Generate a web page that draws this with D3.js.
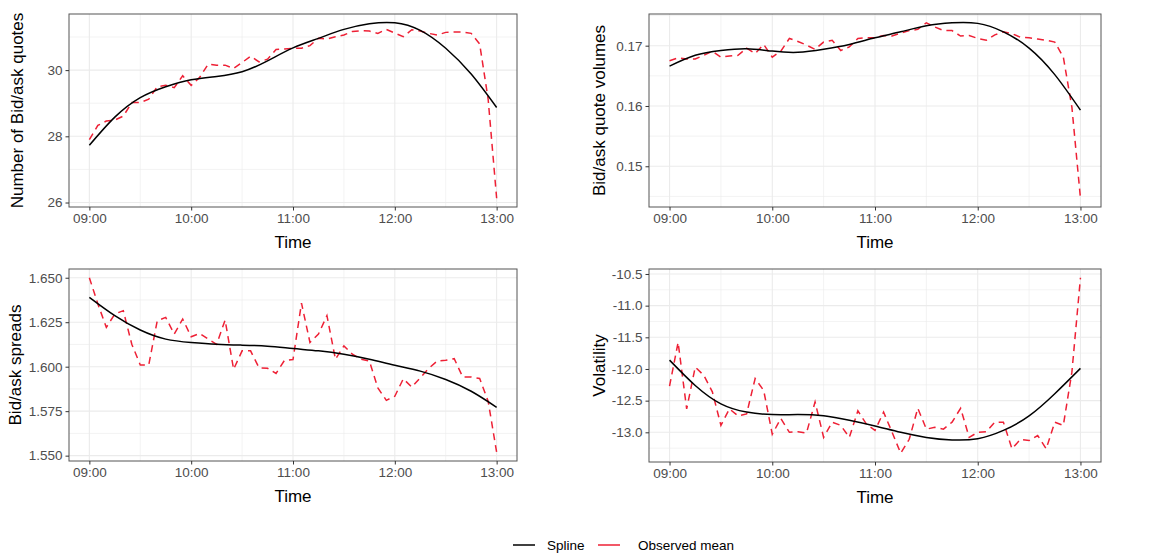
<!DOCTYPE html>
<html>
<head>
<meta charset="utf-8">
<script src="https://cdn.jsdelivr.net/npm/d3@7"></script>
<style>
  body { margin: 0; background: #fff; }
  svg text { font-family: "Liberation Sans", Arial, sans-serif; }
</style>
</head>
<body>
<svg id="chart" width="1156" height="556"></svg>
<script>
// x positions: observed means every 5 minutes, spline read every 15 minutes
const obsTimes = ["09:00","09:05","09:10","09:15","09:20","09:25","09:30","09:35","09:40","09:45",
  "09:50","09:55","10:00","10:05","10:10","10:15","10:20","10:25","10:30","10:35",
  "10:40","10:45","10:50","10:55","11:00","11:05","11:10","11:15","11:20","11:25",
  "11:30","11:35","11:40","11:45","11:50","11:55","12:00","12:05","12:10","12:15",
  "12:20","12:25","12:30","12:35","12:40","12:45","12:50","12:55","13:00"];
const splineTimes = ["09:00","09:15","09:30","09:45","10:00","10:15","10:30","10:45","11:00",
  "11:15","11:30","11:45","12:00","12:15","12:30","12:45","13:00"];
const timeTicks = ["09:00","10:00","11:00","12:00","13:00"];
const timeMinorTicks = ["09:30","10:30","11:30","12:30"];

// Number of bid/ask quotes
const quotesObs = [27.90,28.33,28.46,28.49,28.61,29.02,29.02,29.12,29.50,29.54,
  29.47,29.83,29.54,29.78,30.18,30.15,30.15,30.05,30.23,30.42,
  30.25,30.33,30.62,30.64,30.66,30.66,30.74,30.96,30.94,31.01,
  31.06,31.17,31.19,31.18,31.11,31.23,31.12,31.01,31.22,31.18,
  31.11,31.06,31.14,31.15,31.15,31.11,30.79,29.12,26.13];
const quotesSpline = [27.73,28.58,29.17,29.50,29.71,29.81,29.95,30.28,30.67,
  30.96,31.23,31.40,31.43,31.20,30.66,29.88,28.87];
const quotesTicks = [26, 28, 30];
const quotesMinor = [27, 29, 31];

// Bid/ask quote volumes
const volumeObs = [0.1675,0.1680,0.1678,0.1678,0.1684,0.1691,0.1681,0.1683,0.1684,0.1696,
  0.1687,0.1702,0.1681,0.1691,0.1712,0.1707,0.1701,0.1694,0.1706,0.1709,
  0.1692,0.1698,0.1712,0.1713,0.1713,0.1717,0.1716,0.1721,0.1725,0.1727,
  0.1738,0.1731,0.1725,0.1725,0.1716,0.1717,0.1712,0.1709,0.1718,0.1723,
  0.1720,0.1714,0.1713,0.1711,0.1709,0.1706,0.1681,0.1598,0.1447];
const volumeSpline = [0.1666,0.1684,0.1692,0.1695,0.1691,0.1689,0.1694,0.1702,0.1713,
  0.1723,0.1733,0.1738,0.1737,0.1723,0.1696,0.1652,0.1593];
const volumeTicks = [0.15, 0.16, 0.17];
const volumeMinor = [0.145, 0.155, 0.165, 0.175];

// Bid/ask spreads
const spreadObs = [1.6500,1.6353,1.6221,1.6296,1.6315,1.6126,1.6010,1.6010,1.6258,1.6277,
  1.6183,1.6268,1.6168,1.6187,1.6155,1.6126,1.6262,1.5985,1.6089,1.6089,
  1.5994,1.5991,1.5962,1.6036,1.6040,1.6357,1.6136,1.6183,1.6287,1.6042,
  1.6117,1.6070,1.6042,1.6032,1.5881,1.5811,1.5834,1.5932,1.5885,1.5938,
  1.5991,1.6032,1.6036,1.6045,1.5942,1.5942,1.5934,1.5806,1.5519];
const spreadSpline = [1.6390,1.6287,1.6206,1.6155,1.6136,1.6126,1.6121,1.6115,1.6102,
  1.6089,1.6070,1.6042,1.6008,1.5975,1.5928,1.5862,1.5772];
const spreadTicks = [1.550, 1.575, 1.600, 1.625, 1.650];
const spreadMinor = [1.5625, 1.5875, 1.6125, 1.6375];

// Volatility
const volatilityObs = [-12.27,-11.58,-12.63,-11.97,-12.10,-12.36,-12.89,-12.63,-12.74,-12.71,
  -12.15,-12.34,-13.03,-12.78,-13.00,-12.99,-13.01,-12.52,-13.08,-12.84,
  -12.89,-13.08,-12.66,-12.87,-12.97,-12.68,-13.00,-13.33,-13.11,-12.62,
  -12.95,-12.92,-12.95,-12.84,-12.62,-13.08,-13.00,-12.99,-12.84,-12.84,
  -13.26,-13.11,-13.13,-13.05,-13.26,-12.84,-12.89,-12.05,-10.56];
const volatilitySpline = [-11.86,-12.26,-12.55,-12.68,-12.72,-12.72,-12.74,-12.81,-12.90,
  -13.00,-13.08,-13.12,-13.10,-12.97,-12.74,-12.39,-11.99];
const volatilityTicks = [-13.0, -12.5, -12.0, -11.5, -11.0, -10.5];
const volatilityMinor = [-13.25, -12.75, -12.25, -11.75, -11.25, -10.75];

const legendLabels = ["Spline", "Observed mean"];

const parseTime = d3.timeParse("%H:%M");
const fmtTime = d3.timeFormat("%H:%M");
const svg = d3.select("#chart");

const SPLINE_COLOR = "#000000";
const OBS_COLOR = "#ee2035";
const GRID = "#ebebeb";

function expand(lo, hi, f) {
  const pad = (hi - lo) * f;
  return [lo - pad, hi + pad];
}

function drawPanel(cfg) {
  const { left, right, top, bottom } = cfg;
  const g = svg.append("g");

  const obs = obsTimes.map((t, i) => ({ t: parseTime(t), v: cfg.obs[i] }));
  const spl = splineTimes.map((t, i) => ({ t: parseTime(t), v: cfg.spline[i] }));

  const tExt = d3.extent(obs, d => d.t);
  const span = tExt[1] - tExt[0];
  const x = d3.scaleTime()
    .domain([new Date(+tExt[0] - span * 0.05), new Date(+tExt[1] + span * 0.05)])
    .range([left, right]);

  const vExt = d3.extent(obs.concat(spl), d => d.v);
  const y = d3.scaleLinear()
    .domain(expand(vExt[0], vExt[1], 0.05))
    .range([bottom, top]);

  // panel background
  g.append("rect")
    .attr("x", left).attr("y", top)
    .attr("width", right - left).attr("height", bottom - top)
    .attr("fill", "#fff");

  // minor grid
  g.selectAll(".minorY").data(cfg.minor).enter().append("line")
    .attr("x1", left).attr("x2", right)
    .attr("y1", d => y(d)).attr("y2", d => y(d))
    .attr("stroke", GRID).attr("stroke-width", 0.6);
  g.selectAll(".minorX").data(timeMinorTicks.map(parseTime)).enter().append("line")
    .attr("y1", top).attr("y2", bottom)
    .attr("x1", d => x(d)).attr("x2", d => x(d))
    .attr("stroke", GRID).attr("stroke-width", 0.6);

  // major grid
  g.selectAll(".majorY").data(cfg.ticks).enter().append("line")
    .attr("x1", left).attr("x2", right)
    .attr("y1", d => y(d)).attr("y2", d => y(d))
    .attr("stroke", GRID).attr("stroke-width", 1.1);
  g.selectAll(".majorX").data(timeTicks.map(parseTime)).enter().append("line")
    .attr("y1", top).attr("y2", bottom)
    .attr("x1", d => x(d)).attr("x2", d => x(d))
    .attr("stroke", GRID).attr("stroke-width", 1.1);

  // observed mean (dashed)
  g.append("path")
    .datum(obs)
    .attr("fill", "none")
    .attr("stroke", OBS_COLOR)
    .attr("stroke-width", 1.5)
    .attr("stroke-dasharray", "7,5")
    .attr("d", d3.line().x(d => x(d.t)).y(d => y(d.v)));

  // spline
  g.append("path")
    .datum(spl)
    .attr("fill", "none")
    .attr("stroke", SPLINE_COLOR)
    .attr("stroke-width", 1.5)
    .attr("d", d3.line().curve(d3.curveNatural).x(d => x(d.t)).y(d => y(d.v)));

  // border
  g.append("rect")
    .attr("x", left).attr("y", top)
    .attr("width", right - left).attr("height", bottom - top)
    .attr("fill", "none").attr("stroke", "#555").attr("stroke-width", 1);

  // axes
  const xAxis = g.append("g")
    .attr("transform", `translate(0,${bottom})`)
    .call(d3.axisBottom(x)
      .tickValues(timeTicks.map(parseTime))
      .tickFormat(fmtTime)
      .tickSizeOuter(0)
      .tickSize(3.5)
      .tickPadding(3));
  const yAxis = g.append("g")
    .attr("transform", `translate(${left},0)`)
    .call(d3.axisLeft(y)
      .tickValues(cfg.ticks)
      .tickFormat(cfg.fmt)
      .tickSizeOuter(0)
      .tickSize(3.5)
      .tickPadding(3));
  [xAxis, yAxis].forEach(a => {
    a.select(".domain").remove();
    a.selectAll(".tick line").attr("stroke", "#333");
    a.selectAll(".tick text")
      .attr("fill", "#4d4d4d")
      .style("font-size", "13.5px")
      .style("font-family", '"Liberation Sans", Arial, sans-serif');
  });

  // axis titles
  g.append("text")
    .attr("x", (x(tExt[0]) + x(tExt[1])) / 2)
    .attr("y", bottom + 41)
    .attr("text-anchor", "middle")
    .style("font-size", "17px")
    .attr("fill", "#000")
    .text("Time");

  g.append("text")
    .attr("transform", `translate(${cfg.titleX},${(top + bottom) / 2}) rotate(-90)`)
    .attr("text-anchor", "middle")
    .style("font-size", "17px")
    .attr("fill", "#000")
    .text(cfg.title);
}

const panels = [
  { title: "Number of Bid/ask quotes", obs: quotesObs, spline: quotesSpline,
    ticks: quotesTicks, minor: quotesMinor, fmt: d => d.toFixed(0),
    left: 69, right: 517, top: 14, bottom: 207, titleX: 23 },
  { title: "Bid/ask quote volumes", obs: volumeObs, spline: volumeSpline,
    ticks: volumeTicks, minor: volumeMinor, fmt: d => d.toFixed(2),
    left: 649, right: 1101, top: 14, bottom: 207, titleX: 605 },
  { title: "Bid/ask spreads", obs: spreadObs, spline: spreadSpline,
    ticks: spreadTicks, minor: spreadMinor, fmt: d => d.toFixed(3),
    left: 69, right: 517, top: 269, bottom: 461, titleX: 21 },
  { title: "Volatility", obs: volatilityObs, spline: volatilitySpline,
    ticks: volatilityTicks, minor: volatilityMinor, fmt: d => d.toFixed(1),
    left: 649, right: 1101, top: 269, bottom: 462, titleX: 605 }
];

panels.forEach(drawPanel);

// legend
const legend = svg.append("g").attr("transform", "translate(513,545)");
const legendItems = legend.selectAll("g")
  .data(legendLabels)
  .enter().append("g")
  .attr("transform", (d, i) => `translate(${i === 0 ? 0 : 85},0)`);
legendItems.append("line")
  .attr("x1", 0).attr("x2", 22)
  .attr("stroke", (d, i) => i === 0 ? SPLINE_COLOR : OBS_COLOR)
  .attr("stroke-width", 1.5);
legendItems.append("text")
  .attr("x", (d, i) => i === 0 ? 34 : 40)
  .attr("dy", "0.35em")
  .style("font-size", "13.5px")
  .attr("fill", "#000")
  .text(d => d);
</script>
</body>
</html>
